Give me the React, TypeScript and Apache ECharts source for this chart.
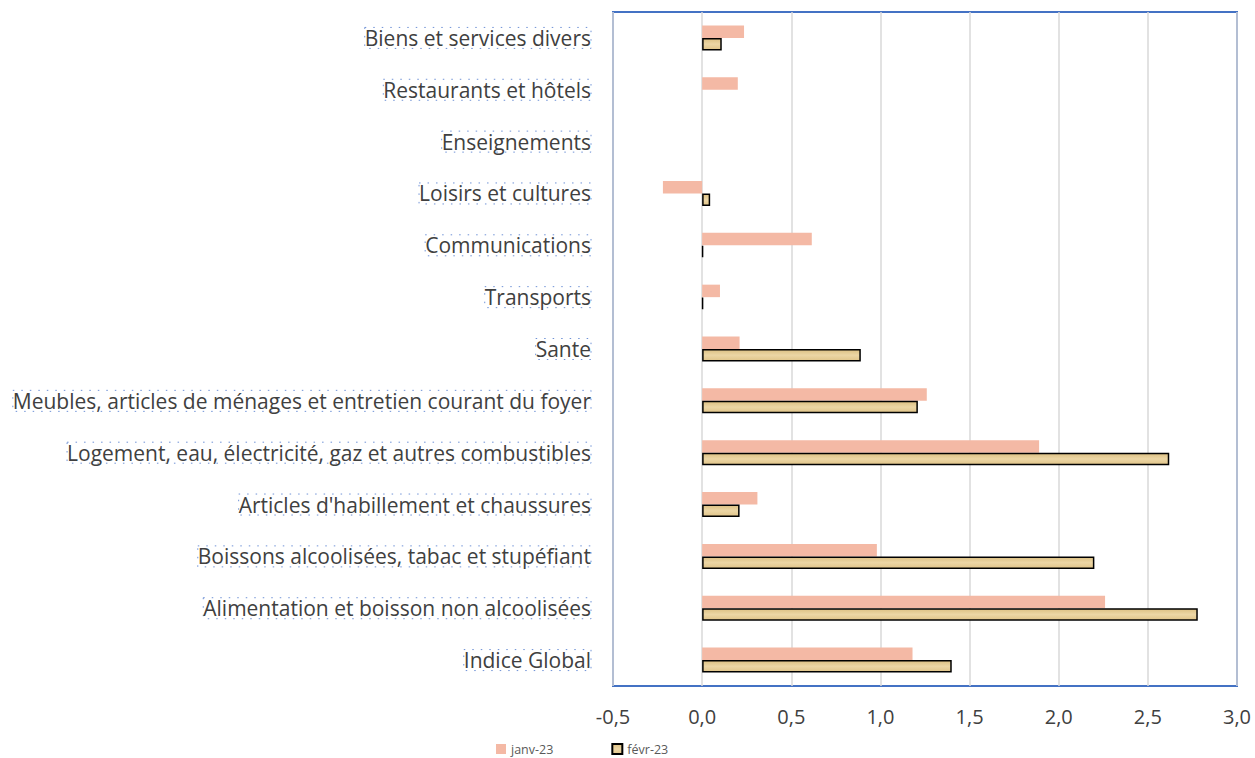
import React, { useEffect, useRef } from "react";
import * as echarts from "echarts";

const categories = [
  "Indice Global",
  "Alimentation et boisson non alcoolisées",
  "Boissons alcoolisées, tabac et stupéfiant",
  "Articles d'habillement et chaussures",
  "Logement, eau, électricité, gaz et autres combustibles",
  "Meubles, articles de ménages et entretien courant du foyer",
  "Sante",
  "Transports",
  "Communications",
  "Loisirs et cultures",
  "Enseignements",
  "Restaurants et hôtels",
  "Biens et services divers",
];

const janv23 = [1.18, 2.26, 0.98, 0.31, 1.89, 1.26, 0.21, 0.1, 0.615, -0.22, 0, 0.2, 0.235];
const fevr23 = [1.4, 2.78, 2.2, 0.21, 2.62, 1.21, 0.89, 0.005, 0.005, 0.045, 0, 0, 0.11];

const seriesNames = ["janv-23", "févr-23"];
const xTicks = { min: -0.5, max: 3.0, interval: 0.5 };

const FONT = "'Open Sans', Lato, sans-serif";

export default function App() {
  const ref = useRef<HTMLDivElement>(null);

  useEffect(() => {
    if (!ref.current) return;
    const chart = echarts.init(ref.current, undefined, { renderer: "svg" });
    const fevrData = fevr23.map((v) =>
      v === 0 ? { value: v, itemStyle: { borderWidth: 0 } } : v
    );
    chart.setOption({
      animation: false,
      backgroundColor: "#ffffff",
      textStyle: { fontFamily: FONT },
      grid: {
        left: 613,
        top: 12,
        width: 624,
        height: 674,
        show: true,
        borderColor: "#4472C4",
        borderWidth: 2,
        backgroundColor: "transparent",
      },
      legend: {
        left: 496,
        top: 742,
        padding: 0,
        icon: "rect",
        itemWidth: 10,
        itemHeight: 10,
        itemGap: 58,
        textStyle: { fontFamily: FONT, fontSize: 12.5, color: "#595959", lineHeight: 14 },
        data: seriesNames,
      },
      xAxis: {
        type: "value",
        min: xTicks.min,
        max: xTicks.max,
        interval: xTicks.interval,
        axisLine: { show: false },
        axisTick: { show: false },
        splitLine: { show: true, lineStyle: { color: "#D9D9D9", width: 1.5 } },
        axisLabel: {
          fontFamily: FONT,
          fontSize: 20,
          color: "#404040",
          margin: 20,
          formatter: (v: number) => v.toFixed(1).replace(".", ","),
        },
      },
      yAxis: {
        type: "category",
        data: categories,
        axisLine: { show: false },
        axisTick: { show: false },
        splitLine: { show: false },
        axisLabel: {
          fontFamily: FONT,
          fontSize: 21,
          color: "#404040",
          margin: 22,
          borderColor: "#6F92D6",
          borderWidth: 1,
          borderType: [1.5, 7],
          padding: [0, 0, 0, 0],
        },
      },
      series: [
        {
          name: seriesNames[0],
          type: "bar",
          data: janv23,
          barWidth: 12.5,
          barGap: "0%",
          itemStyle: { color: "#F4B9A5" },
        },
        {
          name: seriesNames[1],
          type: "bar",
          data: fevrData,
          barWidth: 12.5,
          barGap: "0%",
          itemStyle: {
            color: {
              type: "linear",
              x: 0,
              y: 0,
              x2: 0,
              y2: 1,
              colorStops: [
                { offset: 0, color: "#DCC083" },
                { offset: 0.5, color: "#ECD6A5" },
                { offset: 1, color: "#E0C489" },
              ],
            },
            borderColor: "#000000",
            borderWidth: 1.5,
          },
        },
      ],
    });
    return () => chart.dispose();
  }, []);

  return (
    <div
      ref={ref}
      style={{ position: "absolute", left: 0, top: 0, width: 1255, height: 758 }}
    />
  );
}
